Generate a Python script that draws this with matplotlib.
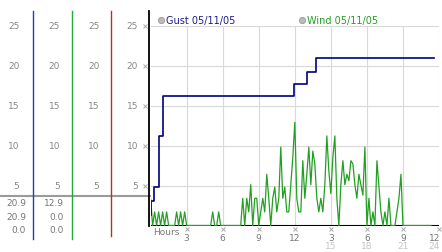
import numpy as np
import matplotlib
matplotlib.use('Agg')
import matplotlib.pyplot as plt
from matplotlib.lines import Line2D
from matplotlib import transforms

# step changes of the gust reading (hours since midnight, value)
gust_hours = [0.0, 0.05, 0.3, 0.7, 1.0, 11.95, 13.05, 13.75, 23.6]
gust = [1.3, 3.1, 4.8, 11.2, 16.2, 17.7, 19.2, 20.9, 20.9]

# wind, one reading every 10 minutes from midnight
wind = (
    [3.4, 0, 1.7, 0, 1.7]
    + [0, 1.7, 0, 1.7, 0, 0]
    + [0, 0, 1.7, 0, 1.7, 0]
    + [1.7, 0, 0, 0, 0, 0]
    + [0, 0, 0, 0, 0, 0]
    + [0, 0, 1.7, 0, 0, 1.7]
    + [0, 0, 0, 0, 0, 0]
    + [0, 0, 0, 0, 0, 3.4]
    + [0, 3.4, 1.7, 5.1, 0, 3.4]
    + [3.4, 0, 1.7, 3.4, 1.7, 6.4]
    + [3.4, 0, 3.4, 4.8, 1.7, 3.4]
    + [9.8, 3.4, 4.8, 1.7, 1.7, 5.1]
    + [8.5, 12.9, 3.4, 1.7, 1.7, 8.1]
    + [3.4, 6.4, 9.8, 5.1, 9.3, 7.7]
    + [3.4, 1.7, 3.4, 1.7, 5.1, 11.2]
    + [6.8, 4.0, 8.5, 11.2, 3.4, 0]
    + [5.1, 8.1, 5.1, 6.4, 5.6, 8.1]
    + [7.7, 5.1, 3.4, 6.4, 5.1, 3.8]
    + [9.8, 0, 3.4, 0, 1.7, 0]
    + [8.1, 4.9, 1.7, 0, 1.7, 0]
    + [3.4, 0, 0, 0, 1.7, 3.4]
    + [6.4, 0, 0, 0, 0, 0]
    + [0, 0, 0, 0, 0, 0]
    + [0, 0, 0, 0]
)
wind_hours = np.arange(len(wind)) / 6.0

y_ticks = [5, 10, 15, 20, 25]
x_ticks = [3, 6, 9, 12, 15, 18, 21, 24]
x_labels = ['3', '6', '9', '12', '3', '6', '9', '12']
x_ticks2 = [15, 18, 21, 24]
x_labels2 = ['15', '18', '21', '24']
gust_stats = ['20.9', '20.9', '0.0']
wind_stats = ['12.9', '0.0', '0.0']

W, H = 442, 253
fig = plt.figure(figsize=(W / 100, H / 100), dpi=100)
fig.patch.set_facecolor('white')


def fx(px):
    return px / W


def fy(py):
    return 1 - py / H


ax = fig.add_axes([fx(150.6), fy(226.5), fx(439) - fx(150.6), 200 / H])
ax.set_xlim(0, 24)
ax.set_ylim(0, 25)
ax.set_facecolor('none')
for s in ax.spines.values():
    s.set_visible(False)
ax.set_xticks([])
ax.set_yticks([])

grid_c = '#d9d9d9'
for v in y_ticks:
    ax.axhline(v, color=grid_c, lw=0.8, zorder=0)
for h in x_ticks:
    ax.axvline(h, color=grid_c, lw=0.8, zorder=0)

ax.axhline(0, color='black', lw=1.5, zorder=2)
ax.plot(wind_hours, wind, color='#22a022', lw=0.9, zorder=3)
ax.plot(gust_hours, gust, drawstyle='steps-post', color='#000080', lw=1.2, zorder=4)

# tick marks and labels
ax.plot([-0.5] * len(y_ticks), y_ticks, ls='none', marker='x', ms=2.5,
        mew=0.7, color='#aaaaaa', clip_on=False)
ax.plot(x_ticks, [-0.4] * len(x_ticks), ls='none', marker='x', ms=2.5,
        mew=0.7, color='#aaaaaa', clip_on=False)
for h, lab in zip(x_ticks, x_labels):
    ax.text(min(h, 23.6), -1.5, lab, ha='center', va='center', fontsize=6.5,
            color='#777777', clip_on=False)
for h, lab in zip(x_ticks2, x_labels2):
    ax.text(min(h, 23.6), -2.5, lab, ha='center', va='center', fontsize=6.5,
            color='#c4c4c4', clip_on=False)
ax.text(0.2, -0.75, 'Hours', ha='left', va='center', fontsize=6.5,
        color='#777777', clip_on=False)

# legend
ax.plot([0.84, 12.57], [25.7, 25.7], ls='none', marker='o', ms=4.5,
        color='#bbbbbb', mec='#999999', mew=0.6, clip_on=False)
ax.text(1.28, 25.7, 'Gust 05/11/05', ha='left', va='center', fontsize=7,
        color='#1c1c8c', clip_on=False)
ax.text(12.99, 25.7, 'Wind 05/11/05', ha='left', va='center', fontsize=7,
        color='#22a022', clip_on=False)

# left hand scale columns
trans = transforms.blended_transform_factory(fig.transFigure, ax.transData)
for col_x in [19.5, 60, 99.5, 138]:
    for v in y_ticks:
        ax.text(fx(col_x), v, str(v), transform=trans, ha='right', va='center',
                fontsize=6.5, color='#888888', clip_on=False)

for i, (g, w) in enumerate(zip(gust_stats, wind_stats)):
    ypx = 203 + 14 * i
    fig.text(fx(26), fy(ypx), g, ha='right', va='center', fontsize=6.5, color='#777777')
    fig.text(fx(63.5), fy(ypx), w, ha='right', va='center', fontsize=6.5, color='#777777')

# separators
fig.add_artist(Line2D([0, fx(150)], [fy(197), fy(197)], color='#9a9a9a', lw=1.5))
for xp, col, yb in [(33, '#2244aa', 240), (72, '#22aa33', 240), (111, '#aa3333', 237)]:
    fig.add_artist(Line2D([fx(xp), fx(xp)], [fy(12), fy(yb)], color=col, lw=1.0))
fig.add_artist(Line2D([fx(148.7), fx(148.7)], [fy(12), fy(227)], color='black', lw=1.3))

fig.savefig('out.png', dpi=100)
